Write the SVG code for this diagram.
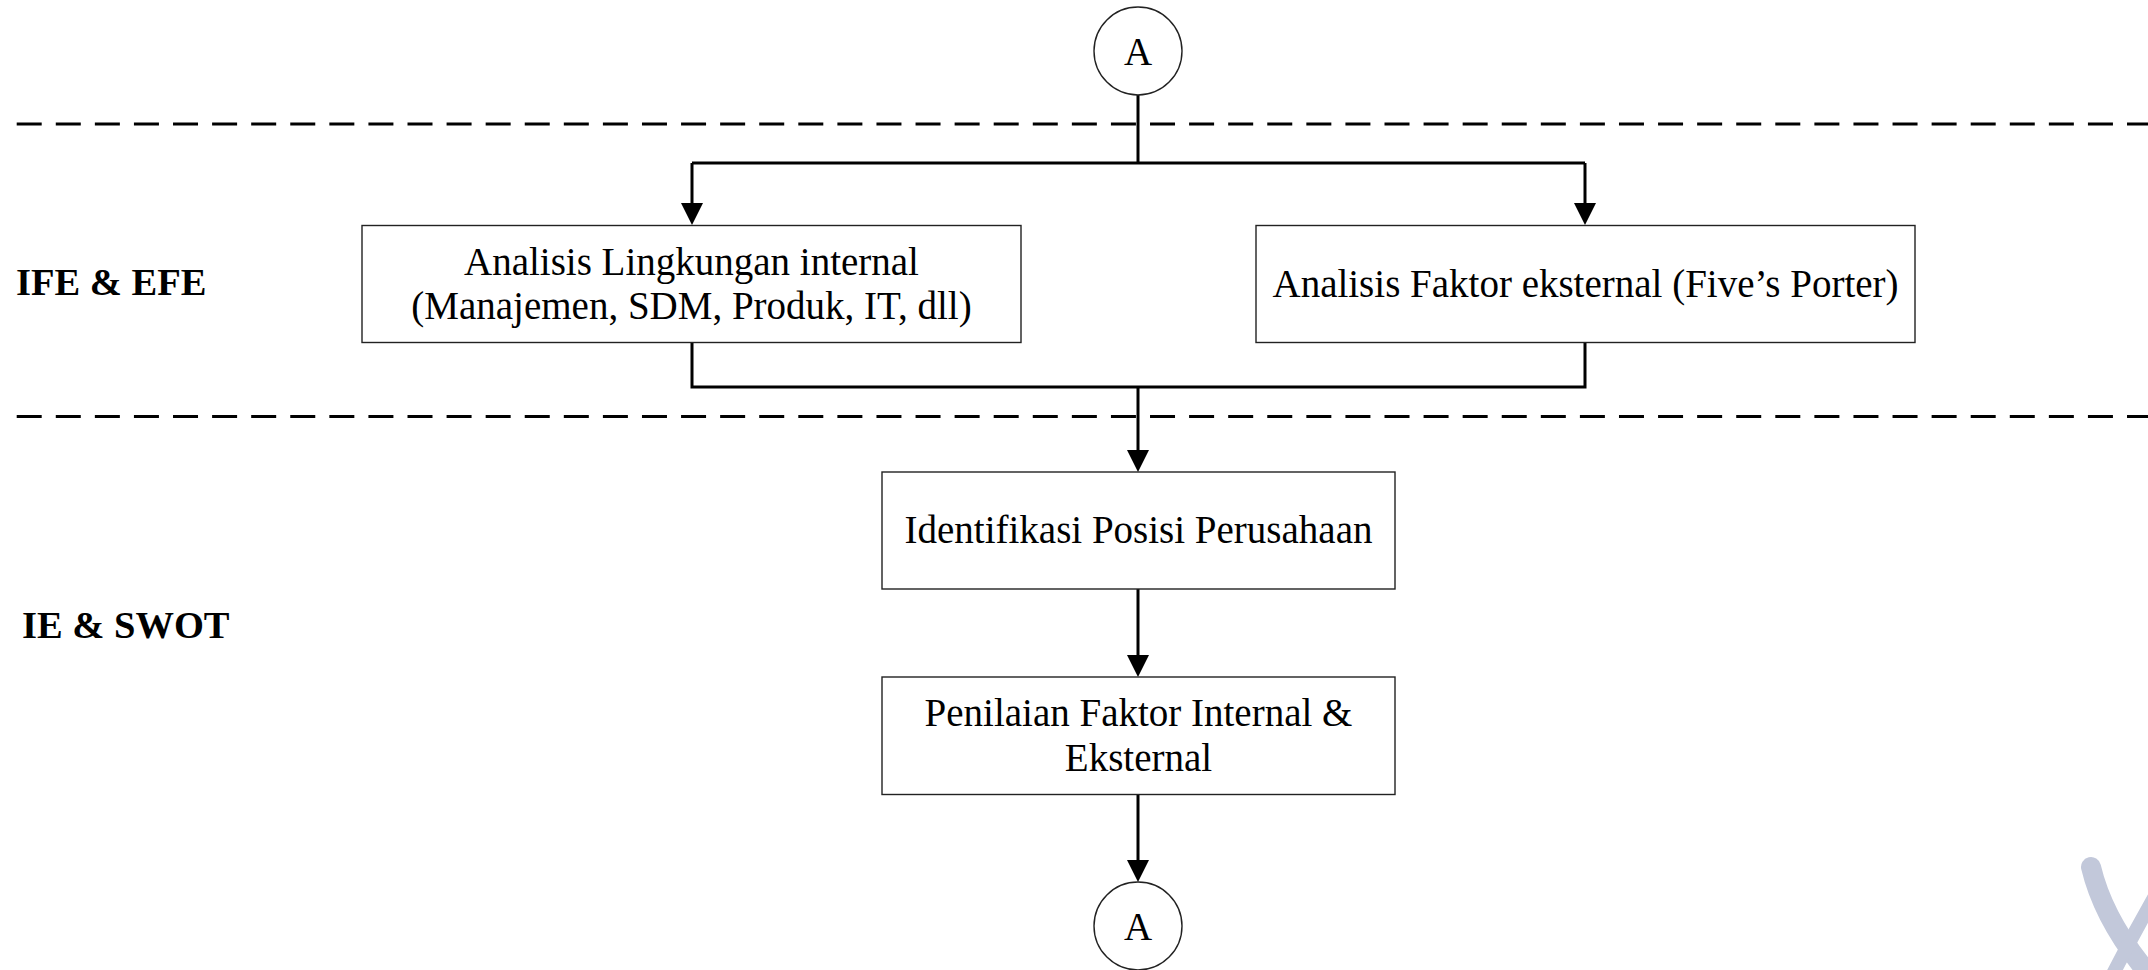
<svg xmlns="http://www.w3.org/2000/svg" width="2148" height="970" viewBox="0 0 2148 970">
  <defs>
    <style>
      .box { fill: #ffffff; stroke: #222222; stroke-width: 1.4; }
      .circ { fill: #ffffff; stroke: #222222; stroke-width: 1.4; }
      .txt { font-family: "Liberation Serif", "Times New Roman", serif; font-size: 39px; fill: #000000; text-anchor: middle; }
      .lbl { font-family: "Liberation Serif", "Times New Roman", serif; font-size: 38.5px; font-weight: bold; fill: #000000; }
      .conn { fill: none; stroke: #000000; stroke-width: 3; }
      .dash { fill: none; stroke: #000000; stroke-width: 3; stroke-dasharray: 25 14.08; }
      .wm { fill: none; stroke: #C2C8DA; stroke-linecap: round; }
    </style>
    <marker id="arrow" markerUnits="userSpaceOnUse" markerWidth="22" markerHeight="22" refX="16" refY="11" orient="auto">
      <path d="M0,0 L22,11 L0,22 z" fill="#000000"/>
    </marker>
  </defs>

  <rect x="0" y="0" width="2148" height="970" fill="#ffffff"/>

  <g id="separators">
    <line class="dash" x1="16.7" y1="124" x2="2148" y2="124"/>
    <line class="dash" x1="16.7" y1="416.5" x2="2148" y2="416.5"/>
  </g>

  <g id="lane-labels">
    <text id="label-ife-efe" class="lbl" x="16" y="295">IFE &amp; EFE</text>
    <text id="label-ie-swot" class="lbl" x="22" y="638">IE &amp; SWOT</text>
  </g>

  <g id="connectors">
    <path class="conn" d="M1138,95 L1138,163"/>
    <path class="conn" d="M692,163 L1585,163"/>
    <path class="conn" d="M692,163 L692,219" marker-end="url(#arrow)"/>
    <path class="conn" d="M1585,163 L1585,219" marker-end="url(#arrow)"/>
    <path class="conn" d="M692,342 L692,387 L1585,387 L1585,342"/>
    <path class="conn" d="M1138,387 L1138,466" marker-end="url(#arrow)"/>
    <path class="conn" d="M1138,589 L1138,671" marker-end="url(#arrow)"/>
    <path class="conn" d="M1138,795 L1138,876" marker-end="url(#arrow)"/>
  </g>

  <g id="node-a-top">
    <circle class="circ" cx="1138" cy="51" r="44"/>
    <text class="txt" x="1138" y="64.5">A</text>
  </g>

  <g id="node-internal">
    <rect class="box" x="362" y="225.5" width="659" height="117"/>
    <text class="txt" x="691.5" y="275">Analisis Lingkungan internal</text>
    <text class="txt" x="691.5" y="319">(Manajemen, SDM, Produk, IT, dll)</text>
  </g>

  <g id="node-external">
    <rect class="box" x="1256" y="225.5" width="659" height="117"/>
    <text class="txt" x="1585.5" y="297">Analisis Faktor eksternal (Five’s Porter)</text>
  </g>

  <g id="node-identifikasi">
    <rect class="box" x="882" y="472" width="513" height="117"/>
    <text class="txt" x="1138.5" y="543">Identifikasi Posisi Perusahaan</text>
  </g>

  <g id="node-penilaian">
    <rect class="box" x="882" y="677" width="513" height="117.5"/>
    <text class="txt" x="1138.5" y="726">Penilaian Faktor Internal &amp;</text>
    <text class="txt" x="1138.5" y="771">Eksternal</text>
  </g>

  <g id="node-a-bottom">
    <circle class="circ" cx="1138" cy="926" r="44"/>
    <text class="txt" x="1138" y="940">A</text>
  </g>

  <g id="watermark">
    <path class="wm" stroke-width="20" d="M2091,867 Q2104,922 2152,978"/>
    <path class="wm" stroke-width="14" d="M2162,884 Q2135,930 2110,980"/>
  </g>
</svg>
